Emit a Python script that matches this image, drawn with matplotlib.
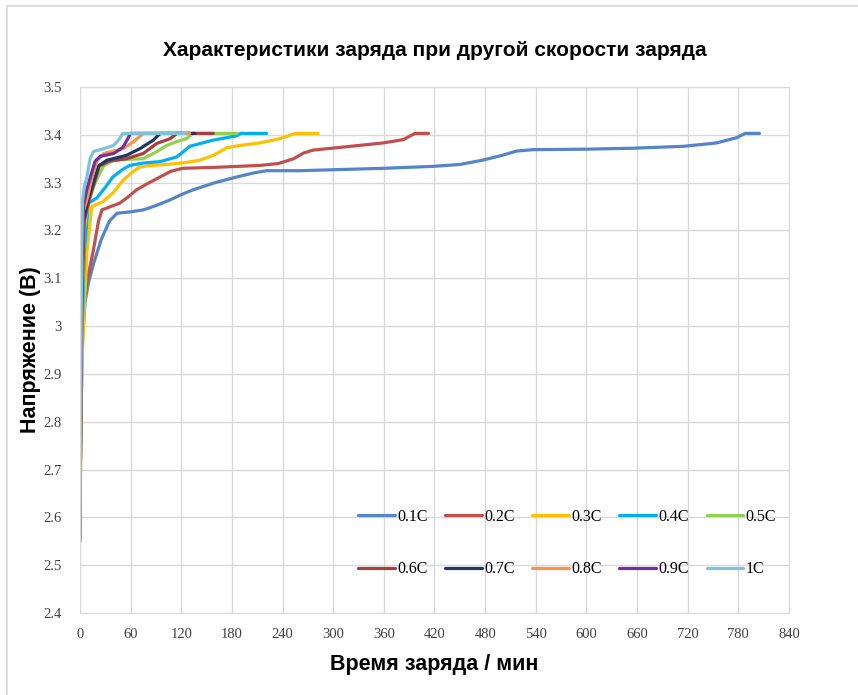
"""Charge curves of a cell at different C-rates."""

import matplotlib

matplotlib.use("Agg")
import matplotlib.pyplot as plt
from matplotlib.lines import Line2D

# time (min) / voltage (V) for every charge rate
t_01 = [0, 1, 3, 6, 10, 16, 25, 35, 44, 60, 75, 90, 107, 120, 134, 160, 186, 205, 221,
        261, 300, 360, 418, 450, 477, 500, 517, 537, 600, 655, 715, 754, 778, 788, 805]
v_01 = [2.55, 2.80, 2.97, 3.05, 3.09, 3.13, 3.18, 3.22, 3.236, 3.239, 3.243, 3.252, 3.264,
        3.275, 3.285, 3.300, 3.312, 3.320, 3.325, 3.325, 3.327, 3.330, 3.334, 3.338,
        3.347, 3.357, 3.366, 3.369, 3.370, 3.372, 3.376, 3.383, 3.394, 3.403, 3.403]

t_02 = [0, 1, 2, 4, 8, 16, 22, 26, 47, 57, 67, 80, 95, 108, 122, 160, 213, 235, 253,
        265, 276, 304, 359, 383, 397, 413]
v_02 = [2.59, 2.85, 2.97, 3.03, 3.09, 3.16, 3.22, 3.243, 3.257, 3.270, 3.285, 3.298,
        3.312, 3.324, 3.330, 3.332, 3.336, 3.340, 3.350, 3.362, 3.368, 3.373, 3.383,
        3.390, 3.403, 3.403]

t_03 = [0, 1.5, 3, 8, 14, 27, 40, 51, 62, 71, 85, 103, 125, 142, 158, 174, 190, 213,
        237, 255, 282]
v_03 = [2.58, 2.85, 2.95, 3.15, 3.25, 3.26, 3.28, 3.305, 3.322, 3.333, 3.336, 3.338,
        3.342, 3.347, 3.357, 3.373, 3.378, 3.383, 3.392, 3.403, 3.403]

t_04 = [0, 1, 2, 5, 10, 20, 30, 39, 50, 59, 75, 95, 115, 122, 130, 145, 158, 186, 190, 221]
v_04 = [2.57, 2.85, 2.95, 3.15, 3.257, 3.268, 3.29, 3.312, 3.327, 3.336, 3.341, 3.344,
        3.354, 3.364, 3.376, 3.383, 3.389, 3.398, 3.403, 3.403]

t_05 = [0, 1, 2, 5, 10, 18, 28, 40, 60, 75, 91, 103, 115, 126, 134, 186]
v_05 = [2.57, 2.85, 3.00, 3.20, 3.26, 3.30, 3.335, 3.347, 3.349, 3.350, 3.365, 3.378,
        3.386, 3.392, 3.403, 3.403]

t_06 = [0, 1, 2, 5, 11, 17, 23, 35, 55, 75, 91, 107, 115, 158]
v_06 = [2.57, 2.85, 3.03, 3.22, 3.265, 3.30, 3.335, 3.345, 3.350, 3.361, 3.382, 3.392,
        3.403, 3.403]

t_07 = [0, 1, 2, 4, 10, 16, 22, 32, 55, 71, 87, 95, 136]
v_07 = [2.56, 2.85, 3.05, 3.22, 3.268, 3.30, 3.335, 3.347, 3.357, 3.371, 3.389, 3.403, 3.403]

t_08 = [0, 1, 2, 4, 9, 14, 20, 28, 51, 63, 75, 130]
v_08 = [2.56, 2.85, 3.08, 3.24, 3.27, 3.31, 3.345, 3.361, 3.371, 3.385, 3.403, 3.403]

t_09 = [0, 1, 2, 4, 8, 12, 18, 24, 40, 51, 56, 60, 120]
v_09 = [2.56, 2.85, 3.10, 3.25, 3.285, 3.31, 3.345, 3.355, 3.361, 3.374, 3.39, 3.403, 3.403]

t_10 = [0, 1, 2, 3, 5, 8, 12, 16, 28, 40, 46, 51, 125]
v_10 = [2.55, 2.90, 3.15, 3.26, 3.29, 3.31, 3.35, 3.365, 3.371, 3.378, 3.39, 3.403, 3.403]

labels = ["0.1C", "0.2C", "0.3C", "0.4C", "0.5C", "0.6C", "0.7C", "0.8C", "0.9C", "1C"]
colors = ["#5585C8", "#C0504D", "#FFC000", "#00B0F0", "#92D050",
          "#A5403E", "#1F3864", "#F79646", "#7030A0", "#7EC4D8"]

series = [(t_01, v_01), (t_02, v_02), (t_03, v_03), (t_04, v_04), (t_05, v_05),
          (t_06, v_06), (t_07, v_07), (t_08, v_08), (t_09, v_09), (t_10, v_10)]

GRID = "#D9D9D9"

fig = plt.figure(figsize=(8.58, 6.95), dpi=100)
ax = fig.add_axes([0.0932, 0.118, 0.8264, 0.7568])

# chart area frame
fig.add_artist(Line2D([7 / 858, 7 / 858], [1 - 6 / 695, 0], transform=fig.transFigure,
                      color=GRID, lw=1.2))
fig.add_artist(Line2D([7 / 858, 1], [1 - 6 / 695, 1 - 6 / 695], transform=fig.transFigure,
                      color=GRID, lw=1.2))

handles = []
for (t, v), lab, c in zip(series, labels, colors):
    h, = ax.plot(t, v, color=c, lw=2.3, label=lab, solid_joinstyle="round",
                 solid_capstyle="round")
    handles.append(h)

ax.set_xlim(0, 840)
ax.set_ylim(2.4, 3.5)
ax.set_xticks(range(0, 841, 60))
ax.set_yticks([2.4 + 0.1 * i for i in range(12)])
ax.set_yticklabels(["2.4", "2.5", "2.6", "2.7", "2.8", "2.9", "3", "3.1", "3.2", "3.3",
                    "3.4", "3.5"])
ax.grid(True, color=GRID, lw=1)
ax.set_axisbelow(True)
for s in ax.spines.values():
    s.set_color(GRID)
ax.tick_params(length=0, labelsize=10.5, colors="#404040")
ax.tick_params(axis="x", pad=11)
ax.tick_params(axis="y", pad=13)
for lbl in ax.get_xticklabels() + ax.get_yticklabels():
    lbl.set_fontfamily("Liberation Serif")

ax.set_title("Характеристики заряда при другой скорости заряда",
             family="Liberation Sans", fontsize=15, fontweight="bold", pad=22)
ax.set_xlabel("Время заряда / мин", family="Liberation Sans", fontsize=15.5,
              fontweight="bold", labelpad=9)
ax.set_ylabel("Напряжение (В)", family="Liberation Sans", fontsize=15.5,
              fontweight="bold", labelpad=2)

# legend is filled column by column, so interleave the two rows
order = [0, 5, 1, 6, 2, 7, 3, 8, 4, 9]
ax.legend([handles[i] for i in order], [labels[i] for i in order],
          loc="center", bbox_to_anchor=(0.687, 0.133), ncol=5, frameon=False,
          prop={"family": "Liberation Serif", "size": 11.5}, handlelength=2.3,
          handletextpad=0.15, columnspacing=1.1, labelspacing=2.3)

fig.savefig("out.png", dpi=100)
